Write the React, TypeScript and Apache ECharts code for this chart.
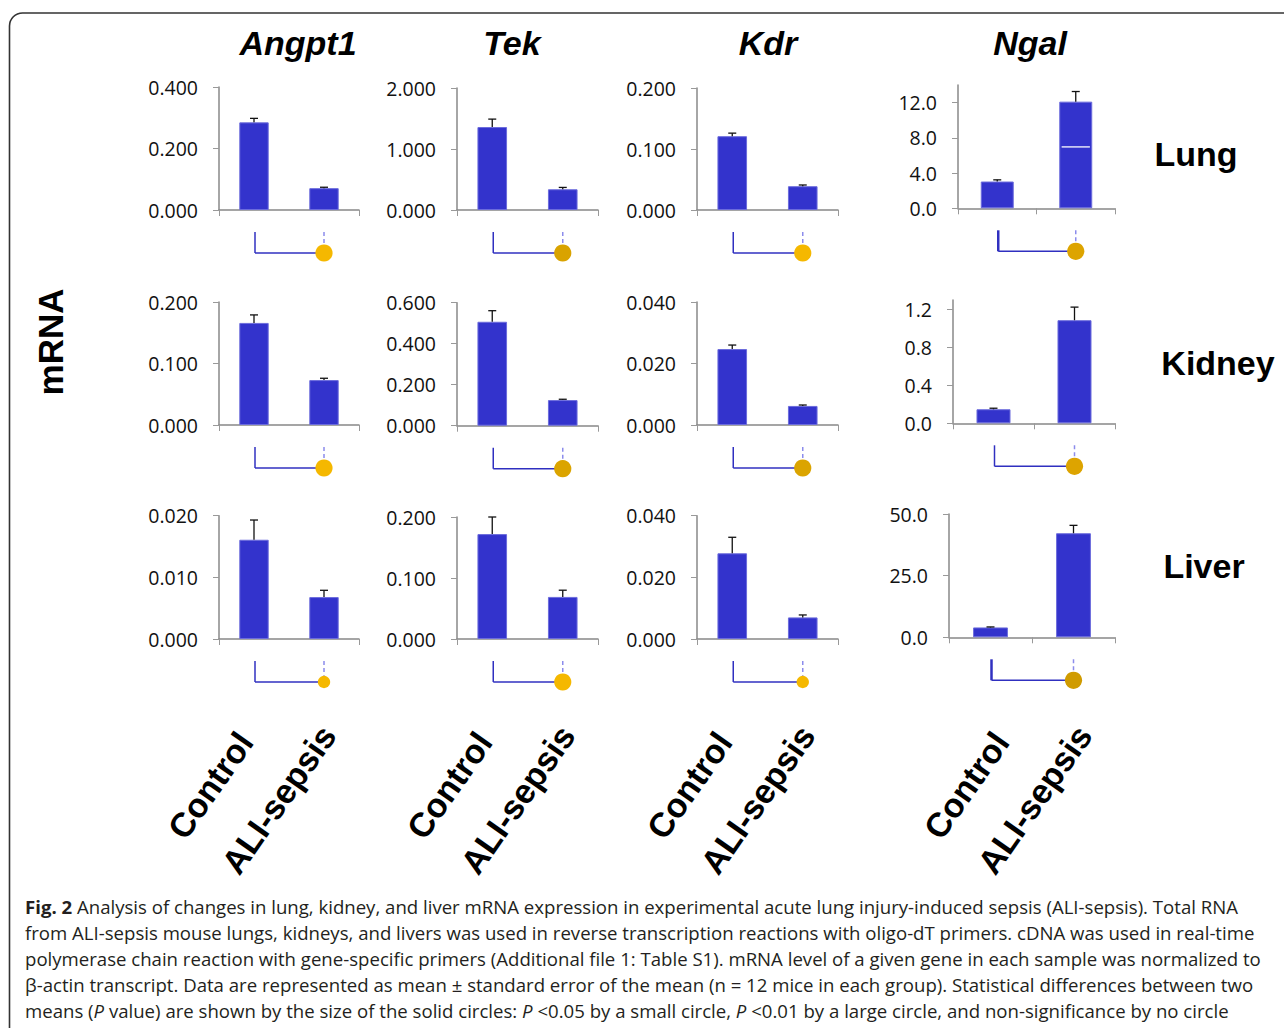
import React, { useEffect, useRef } from "react";
import * as echarts from "echarts";

// ---------- data ----------
const genes = ["Angpt1", "Tek", "Kdr", "Ngal"];
const tissues = ["Lung", "Kidney", "Liver"];
const groups = ["Control", "ALI-sepsis"];

// mean values per gene: [Control, ALI-sepsis]
const lungMeans = [[0.285, 0.071], [1.36, 0.34], [0.121, 0.039], [3.04, 12.11]];
const kidneyMeans = [[0.166, 0.073], [0.507, 0.125], [0.0247, 0.0062], [0.148, 1.087]];
const liverMeans = [[0.0161, 0.0068], [0.172, 0.069], [0.0278, 0.007], [4.0, 42.2]];

// standard errors per gene: [Control, ALI-sepsis]
const lungSE = [[0.013, 0.003], [0.13, 0.03], [0.005, 0.002], [0.19, 1.15]];
const kidneySE = [[0.013, 0.003], [0.054, 0.004], [0.0013, 0.0003], [0.011, 0.138]];
const liverSE = [[0.0032, 0.0011], [0.028, 0.011], [0.0052, 0.0008], [0.2, 3.2]];

// y-axis maxima and tick values
const lungAxisMax = [0.4, 2, 0.2, 14];
const kidneyAxisMax = [0.2, 0.6, 0.04, 1.3];
const liverAxisMax = [0.02, 0.2, 0.04, 50];
const lungTicks = [[0, 0.2, 0.4], [0, 1, 2], [0, 0.1, 0.2], [0, 4, 8, 12]];
const kidneyTicks = [[0, 0.1, 0.2], [0, 0.2, 0.4, 0.6], [0, 0.02, 0.04], [0, 0.4, 0.8, 1.2]];
const liverTicks = [[0, 0.01, 0.02], [0, 0.1, 0.2], [0, 0.02, 0.04], [0, 25, 50]];
const tickDecimals = [3, 3, 3, 1];

// significance: 2 = P<0.01 (large circle), 1 = P<0.05 (small circle)
const lungSig = [2, 2, 2, 2];
const kidneySig = [2, 2, 2, 2];
const liverSig = [1, 2, 1, 2];

// artefact line inside lung Ngal ALI-sepsis bar
const lungNgalLine = [[1, 6.97]];

const captionLines = [
  "{b|Fig. 2} Analysis of changes in lung, kidney, and liver mRNA expression in experimental acute lung injury-induced sepsis (ALI-sepsis). Total RNA",
  "from ALI-sepsis mouse lungs, kidneys, and livers was used in reverse transcription reactions with oligo-dT primers. cDNA was used in real-time",
  "polymerase chain reaction with gene-specific primers (Additional file 1: Table S1). mRNA level of a given gene in each sample was normalized to",
  "β-actin transcript. Data are represented as mean ± standard error of the mean (n = 12 mice in each group). Statistical differences between two",
  "means ({i|P} value) are shown by the size of the solid circles: {i|P} <0.05 by a small circle, {i|P} <0.01 by a large circle, and non-significance by no circle",
];

// ---------- layout / style ----------
const gridLeft = [[219, 457, 697, 958], [219, 457, 697, 953], [219, 457, 697, 949]];
const gridRight = [[359, 598, 838, 1115], [359, 598, 838, 1115], [359, 598, 838, 1115]];
const gridTop = [[87, 88, 88, 85], [302, 302.7, 302, 300], [515.7, 517, 515.7, 514]];
const gridZero = [[210, 210, 210, 208.3], [425, 425.7, 425, 423.3], [639, 639, 639, 637.3]];
const sigColors = [
  ["#F5B800", "#D9A300", "#F5B800", "#DDA400"],
  ["#F5B800", "#DBA400", "#DBA400", "#DDA400"],
  ["#F5B800", "#F5B800", "#F5B800", "#D09B00"],
];
const titleX = [298, 512, 768, 1030];
const rowLabelPos = [[1196, 154], [1218, 363], [1204, 566]];
const xLabelAnchor = [
  [-114, 736],
  [-31, 729],
];

const BAR = "#3333CC";
const AXIS = "#888888";
const LABEL_FONT = "'Open Sans', 'DejaVu Sans', sans-serif";
const BOLD_FONT = "'Liberation Sans', Arial, sans-serif";
const CAP = 18.6;

const meansAll = [lungMeans, kidneyMeans, liverMeans];
const seAll = [lungSE, kidneySE, liverSE];
const maxAll = [lungAxisMax, kidneyAxisMax, liverAxisMax];
const ticksAll = [lungTicks, kidneyTicks, liverTicks];
const sigAll = [lungSig, kidneySig, liverSig];

function buildOption() {
  const grid: any[] = [];
  const xAxis: any[] = [];
  const yAxis: any[] = [];
  const series: any[] = [];
  const graphic: any[] = [];

  tissues.forEach((_t, r) => {
    genes.forEach((_g, c) => {
      const idx = r * 4 + c;
      const left = gridLeft[r][c];
      const top = gridTop[r][c];
      grid.push({
        left,
        top,
        width: gridRight[r][c] - left,
        height: gridZero[r][c] - top,
      });
      xAxis.push({
        type: "category",
        gridIndex: idx,
        data: groups,
        boundaryGap: true,
        axisLine: { show: true, lineStyle: { color: AXIS, width: 1.5 } },
        axisTick: { show: true, length: 6, lineStyle: { color: "#999", width: 1 } },
        axisLabel: { show: false },
        splitLine: { show: false },
      });
      const ticks = ticksAll[r][c];
      yAxis.push({
        type: "value",
        gridIndex: idx,
        min: 0,
        max: maxAll[r][c],
        axisLine: { show: true, lineStyle: { color: AXIS, width: 1.5 } },
        axisTick: { show: true, length: 6, customValues: ticks, lineStyle: { color: "#999", width: 1 } },
        splitLine: { show: false },
        axisLabel: {
          customValues: ticks,
          margin: 21,
          fontSize: 19.5,
          color: "#111",
          fontFamily: LABEL_FONT,
          formatter: (v: number) => v.toFixed(tickDecimals[c]),
        },
      });
      const m = meansAll[r][c];
      const se = seAll[r][c];
      series.push({
        type: "bar",
        xAxisIndex: idx,
        yAxisIndex: idx,
        data: m,
        barWidth: "42%",
        itemStyle: { color: BAR, borderColor: "#6c6cdc", borderWidth: 1 },
        silent: true,
      });
      series.push({
        type: "custom",
        xAxisIndex: idx,
        yAxisIndex: idx,
        z: 5,
        data: m.map((v, i) => [i, v, v + se[i]]),
        renderItem: (_p: any, api: any) => {
          const a = api.coord([api.value(0), api.value(1)]);
          const b = api.coord([api.value(0), api.value(2)]);
          const st = { stroke: "#111", lineWidth: 1.3 };
          return {
            type: "group",
            children: [
              { type: "line", shape: { x1: a[0], y1: a[1], x2: a[0], y2: b[1] }, style: st },
              { type: "line", shape: { x1: a[0] - 4, y1: b[1], x2: a[0] + 4, y2: b[1] }, style: st },
            ],
          };
        },
      });
      const level = sigAll[r][c];
      const color = sigColors[r][c];
      const thick = c === 3 && r !== 1 ? 2.5 : 1.5;
      series.push({
        type: "custom",
        xAxisIndex: idx,
        yAxisIndex: idx,
        clip: false,
        z: 5,
        data: [[0, 0, level]],
        renderItem: (_p: any, api: any) => {
          const p0 = api.coord([0, 0]);
          const p1 = api.coord([1, 0]);
          const y1 = p0[1] + 22;
          const y2 = p0[1] + 43;
          const rad = api.value(2) === 2 ? 8.6 : 6.2;
          return {
            type: "group",
            children: [
              { type: "line", shape: { x1: p0[0] + 1, y1, x2: p0[0] + 1, y2 }, style: { stroke: "#3030C0", lineWidth: thick } },
              { type: "line", shape: { x1: p0[0] + 1, y1: y2, x2: p1[0], y2 }, style: { stroke: "#3030C0", lineWidth: 1.5 } },
              { type: "line", shape: { x1: p1[0], y1, x2: p1[0], y2: y2 - rad }, style: { stroke: "#8c8cec", lineWidth: 1.5, lineDash: [4, 3] } },
              { type: "circle", shape: { cx: p1[0], cy: y2, r: rad }, style: { fill: color } },
            ],
          };
        },
      });
      if (r === 0 && c === 3) {
        series.push({
          type: "custom",
          xAxisIndex: idx,
          yAxisIndex: idx,
          z: 6,
          data: lungNgalLine,
          renderItem: (_p: any, api: any) => {
            const p = api.coord([api.value(0), api.value(1)]);
            const w = api.size([1, 0])[0] * 0.36;
            return {
              type: "line",
              shape: { x1: p[0] - w / 2, y1: p[1], x2: p[0] + w / 2, y2: p[1] },
              style: { stroke: "#ffffff", lineWidth: 1.3 },
            };
          },
        });
      }
      // x labels under bottom row
      if (r === 2) {
        const right = gridRight[r][c];
        groups.forEach((gname, gi) => {
          graphic.push({
            type: "text",
            x: right + xLabelAnchor[gi][0],
            y: xLabelAnchor[gi][1],
            rotation: (55 * Math.PI) / 180,
            style: {
              text: gname,
              fontSize: 34,
              fontWeight: "bold",
              fontFamily: BOLD_FONT,
              fill: "#000",
              align: "right",
              verticalAlign: "middle",
            },
          });
        });
      }
    });
  });

  // frame
  graphic.push({
    type: "rect",
    z: -1,
    shape: { x: 9.5, y: 13, width: 1300, height: 1040, r: 13 },
    style: { fill: "none", stroke: "#333", lineWidth: 1.6 },
  });
  // gene titles
  genes.forEach((g, c) => {
    graphic.push({
      type: "text",
      x: titleX[c],
      y: 43,
      style: {
        text: g,
        fontSize: 34,
        fontWeight: "bold",
        fontStyle: "italic",
        fontFamily: BOLD_FONT,
        fill: "#000",
        align: "center",
        verticalAlign: "middle",
      },
    });
  });
  // row labels
  tissues.forEach((t, r) => {
    graphic.push({
      type: "text",
      x: rowLabelPos[r][0],
      y: rowLabelPos[r][1],
      style: {
        text: t,
        fontSize: 34,
        fontWeight: "bold",
        fontFamily: BOLD_FONT,
        fill: "#000",
        align: "center",
        verticalAlign: "middle",
      },
    });
  });
  // y title
  graphic.push({
    type: "text",
    x: 50,
    y: 342,
    rotation: Math.PI / 2,
    style: {
      text: "mRNA",
      fontSize: 35,
      fontWeight: "bold",
      fontFamily: BOLD_FONT,
      fill: "#000",
      align: "center",
      verticalAlign: "middle",
    },
  });
  // caption
  captionLines.forEach((line, i) => {
    graphic.push({
      type: "text",
      x: 25,
      y: 906 + i * 26.2,
      style: {
        text: line,
        fontSize: CAP,
        fontFamily: LABEL_FONT,
        fill: "#231f20",
        align: "left",
        verticalAlign: "middle",
        rich: {
          b: { fontWeight: "bold", fontSize: CAP, fontFamily: LABEL_FONT, fill: "#231f20" },
          i: { fontStyle: "italic", fontSize: CAP, fontFamily: LABEL_FONT, fill: "#231f20" },
        },
      },
    });
  });

  return {
    animation: false,
    backgroundColor: "#ffffff",
    grid,
    xAxis,
    yAxis,
    series,
    graphic,
  };
}

export default function App() {
  const ref = useRef<HTMLDivElement>(null);
  useEffect(() => {
    if (!ref.current) return;
    const chart = echarts.init(ref.current, undefined, { renderer: "svg" });
    chart.setOption(buildOption() as any);
    return () => chart.dispose();
  }, []);
  return (
    <div
      ref={ref}
      style={{ position: "absolute", left: 0, top: 0, width: 1284, height: 1028, background: "#fff" }}
    />
  );
}
